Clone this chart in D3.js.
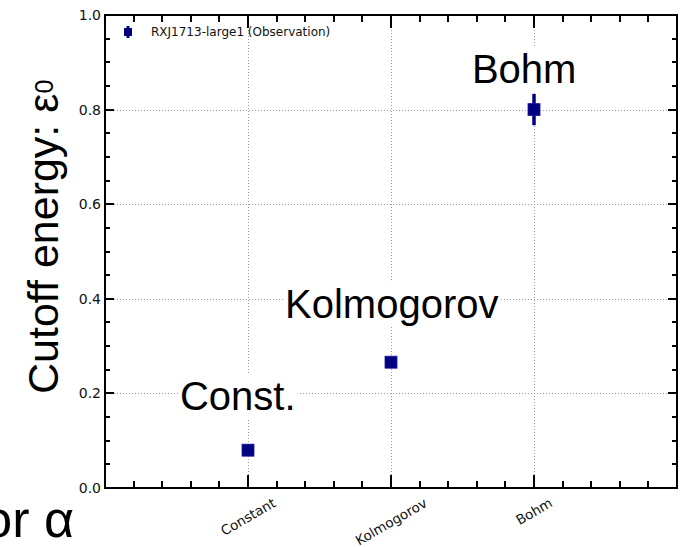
<!DOCTYPE html>
<html>
<head>
<meta charset="utf-8">
<script src="https://cdn.jsdelivr.net/npm/d3@7"></script>
<style>
  html, body { margin: 0; padding: 0; background: #fff; }
  svg { display: block; }
</style>
</head>
<body>
<svg id="chart" width="684" height="547"></svg>
<script>
// Diffusion models and the fitted cutoff energy for each
const categories = ["Constant", "Kolmogorov", "Bohm"];
const cutoffValues = [0.08, 0.266, 0.80];
const cutoffErrors = [0.004, 0.006, 0.033];
const seriesName = "RXJ1713-large1 (Observation)";
const yTickValues = [0.0, 0.2, 0.4, 0.6, 0.8, 1.0];
const modelLabels = ["Const.", "Kolmogorov", "Bohm"];

const W = 684, H = 547;
const plot = { left: 105, right: 677, top: 15, bottom: 488 };
const navy = "#000080";

const svg = d3.select("#chart");

// categories sit at 1, 2, 3 on a 0..4 axis
const x = d3.scaleLinear().domain([0, 4]).range([plot.left, plot.right]);
const y = d3.scaleLinear().domain([0, 1]).range([plot.bottom, plot.top]);

const points = categories.map((c, i) => ({
  cat: c, pos: i + 1, value: cutoffValues[i], err: cutoffErrors[i]
}));

// dotted grid
const grid = svg.append("g").attr("class", "grid")
  .attr("stroke", "#9a9a9a").attr("stroke-width", 1).attr("stroke-dasharray", "1,2");
grid.selectAll("line.gx").data(points).join("line").attr("class", "gx")
  .attr("x1", d => Math.round(x(d.pos)) + 0.5).attr("x2", d => Math.round(x(d.pos)) + 0.5)
  .attr("y1", plot.top).attr("y2", plot.bottom);
grid.selectAll("line.gy").data(yTickValues.filter(v => v > 0 && v < 1)).join("line").attr("class", "gy")
  .attr("x1", plot.left).attr("x2", plot.right)
  .attr("y1", d => Math.round(y(d)) + 0.5).attr("y2", d => Math.round(y(d)) + 0.5);

// model names written over the plot on white boxes (data coordinates of the text's left baseline)
const labelAnchors = [[0.524, 0.165], [1.259, 0.359], [2.566, 0.856]];
const ann = svg.append("g").attr("class", "annotations");
modelLabels.forEach((t, i) => {
  const g = ann.append("g");
  const txt = g.append("text")
    .attr("x", x(labelAnchors[i][0])).attr("y", y(labelAnchors[i][1]))
    .attr("font-family", "'Liberation Sans', Arial, sans-serif")
    .attr("font-size", 40).attr("fill", "#000").text(t);
  const bb = txt.node().getBBox();
  g.insert("rect", "text")
    .attr("x", bb.x - 2).attr("y", bb.y).attr("width", bb.width + 4).attr("height", bb.height)
    .attr("fill", "#fff");
});

// ticks: inside, on all four sides
const ticks = svg.append("g").attr("class", "ticks").attr("stroke", "#000").attr("stroke-width", 2);
const xMinor = d3.range(0, 4.0001, 0.2).map(v => +v.toFixed(2)).filter(v => v > 0 && v < 4 && ![1, 2, 3].includes(Math.round(v * 10) / 10));
const xMajor = points.map(d => d.pos);
const yMinor = d3.range(0, 1.0001, 0.05).map(v => +v.toFixed(2)).filter(v => v > 0 && v < 1 && !yTickValues.includes(v));
const yMajor = yTickValues.filter(v => v > 0 && v < 1);

function xTicks(vals, len) {
  vals.forEach(v => {
    const px = Math.round(x(v));
    ticks.append("line").attr("x1", px).attr("x2", px).attr("y1", plot.bottom).attr("y2", plot.bottom - len);
    ticks.append("line").attr("x1", px).attr("x2", px).attr("y1", plot.top).attr("y2", plot.top + len);
  });
}
function yTicks(vals, len) {
  vals.forEach(v => {
    const py = Math.round(y(v));
    ticks.append("line").attr("x1", plot.left).attr("x2", plot.left + len).attr("y1", py).attr("y2", py);
    ticks.append("line").attr("x1", plot.right).attr("x2", plot.right - len).attr("y1", py).attr("y2", py);
  });
}
xTicks(xMinor, 7);
xTicks(xMajor, 13);
yTicks(yMinor, 5);
yTicks(yMajor, 9);

// frame
svg.append("rect")
  .attr("x", plot.left).attr("y", plot.top)
  .attr("width", plot.right - plot.left).attr("height", plot.bottom - plot.top)
  .attr("fill", "none").attr("stroke", "#000").attr("stroke-width", 2);

// y tick labels
svg.append("g").selectAll("text").data(yTickValues).join("text")
  .attr("x", plot.left - 4).attr("y", d => y(d))
  .attr("text-anchor", "end").attr("dominant-baseline", "central")
  .attr("font-family", "'DejaVu Sans', sans-serif").attr("font-size", 14).attr("fill", "#111")
  .text(d => d.toFixed(1));

// x tick labels, rotated 30 degrees
const fsX = 13.5;
svg.append("g").selectAll("text").data(points).join("text")
  .attr("font-family", "'DejaVu Sans', sans-serif").attr("font-size", fsX).attr("fill", "#111")
  .attr("text-anchor", "middle").attr("dominant-baseline", "central")
  .text(d => d.cat)
  .each(function(d) {
    const w = this.getComputedTextLength();
    const h = w * 0.5 + fsX * 1.1 * 0.866;
    d3.select(this).attr("transform", `translate(${x(d.pos)},${plot.bottom + 7 + h / 2}) rotate(-30)`);
  });

// error bars and square markers
const marks = svg.append("g").attr("class", "marks");
marks.selectAll("line").data(points).join("line")
  .attr("x1", d => x(d.pos)).attr("x2", d => x(d.pos))
  .attr("y1", d => y(d.value - d.err)).attr("y2", d => y(d.value + d.err))
  .attr("stroke", navy).attr("stroke-width", 3.5);
const ms = 12;
marks.selectAll("rect").data(points).join("rect")
  .attr("x", d => x(d.pos) - ms / 2).attr("y", d => y(d.value) - ms / 2)
  .attr("width", ms).attr("height", ms)
  .attr("fill", navy).attr("stroke", "#1a1aa0").attr("stroke-width", 0.8);

// legend
const leg = svg.append("g").attr("class", "legend");
leg.append("line").attr("x1", 128).attr("x2", 128).attr("y1", 26).attr("y2", 38)
  .attr("stroke", navy).attr("stroke-width", 3);
leg.append("rect").attr("x", 124).attr("y", 28).attr("width", 8).attr("height", 8).attr("fill", navy);
leg.append("text").attr("x", 151).attr("y", 32).attr("dominant-baseline", "central")
  .attr("font-family", "'DejaVu Sans', sans-serif").attr("font-size", 12).attr("fill", "#111")
  .text(seriesName);

// y axis title
const yTitle = svg.append("text")
  .attr("transform", "translate(58,394) rotate(-90)")
  .attr("font-family", "'Liberation Sans', Arial, sans-serif").attr("font-size", 43).attr("fill", "#000");
yTitle.append("tspan").text("Cutoff energy: ε");
yTitle.append("tspan").attr("font-size", 25).attr("dy", -5).text("0");

// trailing caption text at the lower left edge
svg.append("text").attr("x", 74).attr("y", 537).attr("text-anchor", "end")
  .attr("font-family", "'Liberation Sans', Arial, sans-serif").attr("font-size", 52).attr("fill", "#000")
  .text("or α");
</script>
</body>
</html>
